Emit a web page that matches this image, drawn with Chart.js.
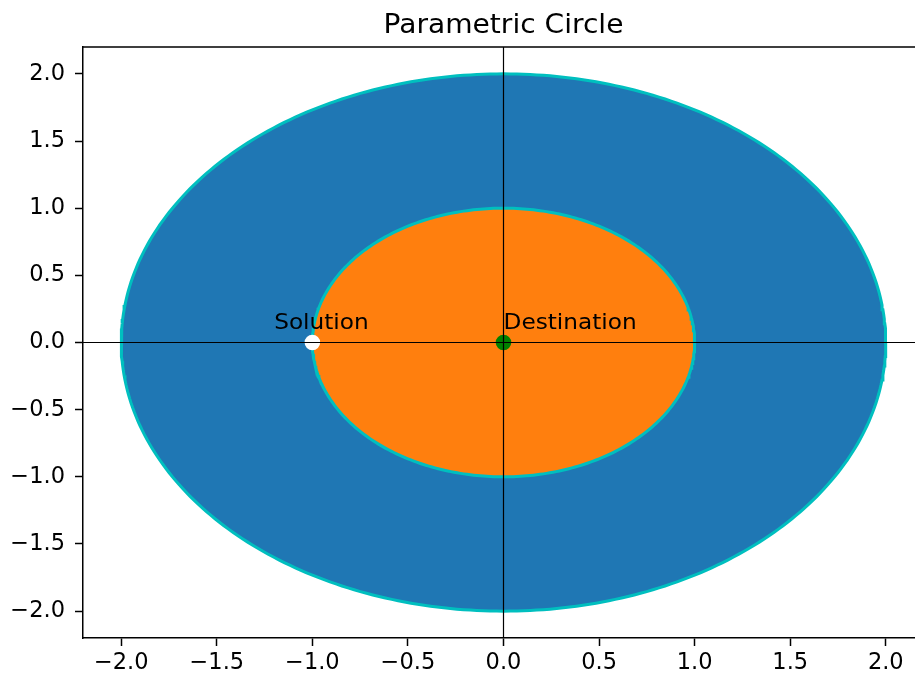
<!DOCTYPE html>
<html>
<head>
<meta charset="utf-8">
<script src="https://cdn.jsdelivr.net/npm/chart.js@4.4.1/dist/chart.umd.min.js"></script>
<style>
html,body{margin:0;padding:0;overflow:hidden;background:#fff;width:915px;height:677px}
canvas{display:block}
</style>
</head>
<body>
<canvas id="c" width="1007" height="677"></canvas>
<script>
// ---- data ----
const chartTitle = 'Parametric Circle';
const circleRadii = [2, 1];
const circleCenterX = [0, 0];
const circleCenterY = [0, 0];
const pointNames = ['Solution', 'Destination'];
const pointX = [-1, 0];
const pointY = [0, 0];
const labelX = [-1.2, 0];
const labelY = [0.1, 0.1];
const xTicks = [-2, -1.5, -1, -0.5, 0, 0.5, 1, 1.5, 2];
const yTicks = [-2, -1.5, -1, -0.5, 0, 0.5, 1, 1.5, 2];
const xLimits = [-2.2, 2.2];
const yLimits = [-2.2, 2.2];
const refLineX = [0];
const refLineY = [0];

// parametric circle: x = cx + r cos t, y = cy + r sin t
const thetaCount = 361;
function circlePoints(r, cx, cy) {
  const pts = [];
  for (let i = 0; i < thetaCount; i++) {
    const t = 2 * Math.PI * i / (thetaCount - 1);
    pts.push({x: cx + r * Math.cos(t), y: cy + r * Math.sin(t)});
  }
  return pts;
}

const FONT = '"DejaVu Sans", sans-serif';
const TEXT_STRETCH = 1.08;
const fmt = v => (v < 0 ? '\u2212' : '') + Math.abs(v).toFixed(1);

function stretchedText(ctx, text, x, y, align) {
  ctx.save();
  ctx.translate(x, y);
  ctx.scale(TEXT_STRETCH, 1);
  ctx.textAlign = align;
  ctx.fillText(text, 0, 0);
  ctx.restore();
}

const shapeFill = {
  id: 'shapeFill',
  beforeDatasetDraw(chart, args) {
    const ds = chart.data.datasets[args.index];
    if (!ds.shapeFillColor) return;
    const pts = args.meta.data;
    const ctx = chart.ctx;
    const a = chart.chartArea;
    ctx.save();
    ctx.beginPath();
    ctx.rect(a.left, a.top, a.right - a.left, a.bottom - a.top);
    ctx.clip();
    ctx.beginPath();
    pts.forEach((p, i) => i ? ctx.lineTo(p.x, p.y) : ctx.moveTo(p.x, p.y));
    ctx.closePath();
    ctx.fillStyle = ds.shapeFillColor;
    ctx.fill();
    ctx.restore();
  }
};

const decorations = {
  id: 'decorations',
  afterDatasetsDraw(chart) {
    const ctx = chart.ctx;
    const xs = chart.scales.x, ys = chart.scales.y;
    ctx.save();
    ctx.fillStyle = '#000';
    ctx.font = '21.5px ' + FONT;
    ctx.textBaseline = 'alphabetic';
    pointNames.forEach((n, i) => {
      stretchedText(ctx, n, xs.getPixelForValue(labelX[i]), ys.getPixelForValue(labelY[i]), 'left');
    });
    ctx.restore();
  },
  afterDraw(chart) {
    const ctx = chart.ctx;
    const a = chart.chartArea;
    ctx.save();
    ctx.strokeStyle = '#000';
    ctx.lineWidth = 1.5;
    ctx.beginPath();
    ctx.moveTo(a.left - 0.75, a.top);
    ctx.lineTo(a.right + 0.75, a.top);
    ctx.moveTo(a.right, a.top);
    ctx.lineTo(a.right, a.bottom);
    ctx.stroke();
    ctx.fillStyle = '#000';
    ctx.font = '26px ' + FONT;
    ctx.textBaseline = 'alphabetic';
    stretchedText(ctx, chartTitle, (a.left + a.right) / 2, 33, 'center');
    ctx.restore();
  }
};

const datasets = [];
refLineX.forEach(v => datasets.push({
  data: [{x: v, y: yLimits[0]}, {x: v, y: yLimits[1]}],
  showLine: true, borderColor: '#000', borderWidth: 1.2, pointRadius: 0, order: 0
}));
refLineY.forEach(v => datasets.push({
  data: [{x: xLimits[0], y: v}, {x: xLimits[1], y: v}],
  showLine: true, borderColor: '#000', borderWidth: 1.2, pointRadius: 0, order: 0
}));
const markerColors = ['#ffffff', '#008000'];
pointNames.forEach((n, i) => datasets.push({
  label: n,
  data: [{x: pointX[i], y: pointY[i]}],
  showLine: false, pointRadius: 7.8, pointBackgroundColor: markerColors[i],
  pointBorderColor: markerColors[i], pointBorderWidth: 0, order: 1
}));
const circleFills = ['#1f77b4', '#ff7f0e'];
circleRadii.forEach((r, i) => datasets.push({
  data: circlePoints(r, circleCenterX[i], circleCenterY[i]),
  showLine: true, shapeFillColor: circleFills[i], borderColor: '#00bfbf', borderWidth: 3,
  pointRadius: 0, fill: false, tension: 0, order: 10 - i
}));

new Chart(document.getElementById('c'), {
  type: 'scatter',
  data: {datasets},
  plugins: [shapeFill, decorations],
  options: {
    responsive: false,
    animation: false,
    devicePixelRatio: 1,
    layout: {padding: {top: 47, right: 83, left: 0, bottom: 0}},
    plugins: {legend: {display: false}, tooltip: {enabled: false}, title: {display: false}},
    scales: {
      x: {
        type: 'linear', min: xLimits[0], max: xLimits[1],
        afterBuildTicks: s => { s.ticks = xTicks.map(v => ({value: v})); },
        afterFit: s => { s.height = 39; },
        ticks: {callback: fmt, font: {family: FONT, size: 22.5}, color: '#000', padding: 4, maxRotation: 0, autoSkip: false},
        grid: {drawOnChartArea: false, drawTicks: true, tickLength: 8, tickColor: '#000', tickWidth: 1.5},
        border: {display: true, color: '#000', width: 1.5}
      },
      y: {
        type: 'linear', min: yLimits[0], max: yLimits[1],
        afterBuildTicks: s => { s.ticks = yTicks.map(v => ({value: v})); },
        afterFit: s => { s.width = 83; },
        ticks: {callback: fmt, font: {family: FONT, size: 22.5}, color: '#000', padding: 10, autoSkip: false},
        grid: {drawOnChartArea: false, drawTicks: true, tickLength: 8, tickColor: '#000', tickWidth: 1.5},
        border: {display: true, color: '#000', width: 1.5}
      }
    }
  }
});
</script>
</body>
</html>
